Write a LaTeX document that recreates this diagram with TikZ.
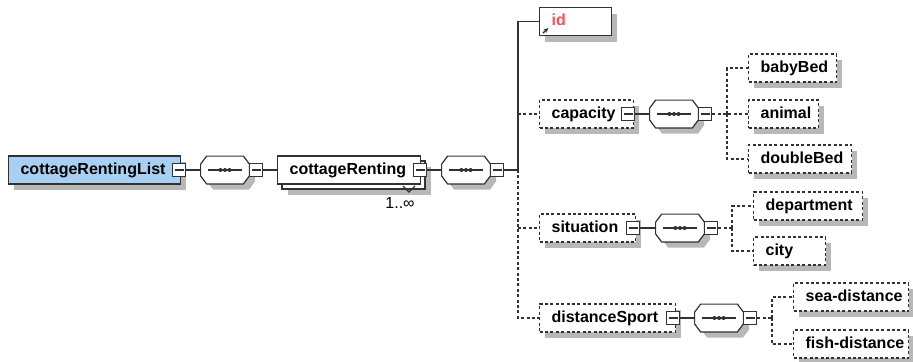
\documentclass[tikz,border=0pt]{standalone}
\usepackage{fontspec}
\setmainfont{Liberation Sans}
\usetikzlibrary{arrows.meta}
\definecolor{rootblue}{RGB}{168,208,242}
\definecolor{idred}{RGB}{236,86,86}
\definecolor{edge}{RGB}{50,50,50}
\hyphenpenalty=10000
\exhyphenpenalty=10000
\tikzset{
  elem/.style = {draw=edge, fill=white, line width=0.6pt, anchor=west,
                text width=#1, align=left, inner xsep=6pt, inner ysep=0pt,
                minimum height=14pt, text height=6pt, text depth=1.7pt,
                font=\fontsize{8}{9.6}\selectfont\bfseries},
  optelem/.style = {elem=#1, dash pattern=on 1.5pt off 1.2pt},
  toggle/.style = {draw=edge, fill=white, line width=0.6pt,
                minimum size=6.5pt, inner sep=0pt,
                path picture={\draw[edge, line width=0.6pt]
                  ([xshift=1pt]path picture bounding box.west) --
                  ([xshift=-1pt]path picture bounding box.east);}},
  seq/.style = {minimum width=24pt, minimum height=13.5pt, inner sep=0pt},
  link/.style = {draw=edge, line width=0.6pt},
  optlink/.style = {link, dash pattern=on 1.5pt off 1.2pt},
  shadowpen/.style = {fill=black!28, draw=black!28, line width=3pt, miter limit=10}
}
% shadow of a box: offset, left x, centre y, width
\newcommand{\boxshadow}[4][6]{%
  \filldraw[shadowpen] ({#2+#1+3},{#3-14+#1+3}) rectangle ({#2+#4+#1-3},{#3+14+#1-3});}
% shadow of a sequence octagon: centre x, centre y
\newcommand{\octshadow}[2]{%
  \filldraw[shadowpen, shift={({#1+6},{#2+6})}] (-16.5,-10.5) -- (16.5,-10.5) -- (21,-4.5) --
    (21,4.5) -- (16.5,10.5) -- (-16.5,10.5) -- (-21,4.5) -- (-21,-4.5) -- cycle;}
% octagon of a sequence node, drawn over its (empty) node
\newcommand{\seqbody}[1]{%
  \filldraw[fill=white, draw=edge, line width=0.6pt]
    ([xshift=3pt]#1.north west) -- ([xshift=-3pt]#1.north east) --
    ([yshift=-4pt]#1.north east) -- ([yshift=4pt]#1.south east) --
    ([xshift=-3pt]#1.south east) -- ([xshift=3pt]#1.south west) --
    ([yshift=4pt]#1.south west) -- ([yshift=-4pt]#1.north west) -- cycle;
  \draw[edge, line width=0.6pt] ([xshift=-8.5pt]#1.center) -- ([xshift=8.5pt]#1.center);
  \foreach \k in {-2.3,0,2.3}
    \fill[edge] ([xshift=\k pt]#1.center) circle (1pt);
}

\begin{document}
\begin{tikzpicture}[x=0.5pt, y=-0.5pt]
	\def\row{170}
	\def\kids{539}
	\useasboundingbox (0,0) rectangle (913,361);

	% Shadows
	\boxshadow{8}{\row}{172}
	\octshadow{225}{\row}
	\boxshadow[11]{277}{\row}{143}
	\filldraw[fill=white, draw=edge, line width=0.6pt] (282,{\row-9}) rectangle (425,{\row+19});
	\octshadow{466}{\row}
	\boxshadow{\kids}{21.5}{72}
	\boxshadow{\kids}{114}{94}
	\boxshadow{\kids}{228}{96}
	\boxshadow{\kids}{318}{136}
	\octshadow{674}{114}
	\octshadow{680}{228}
	\octshadow{719}{318}
	\boxshadow{748}{68}{88}
	\boxshadow{748}{114}{70}
	\boxshadow{748}{159}{103}
	\boxshadow{753}{206}{109}
	\boxshadow{753}{251}{72}
	\boxshadow{793}{297}{115}
	\boxshadow{793}{344}{115}

	% Root element
	\node[elem=74pt, fill=rootblue] (cottageRentingList) at (8,\row) {cottageRentingList};
	\node[toggle] (tRoot) at (179,\row) {};
	\node[seq] (seqRoot) at (225,\row) {}; \seqbody{seqRoot}
	\node[toggle] (tSeqRoot) at (256,\row) {};

	% Repeated element
	\node[elem=59.5pt] (cottageRenting) at (277,\row) {cottageRenting};
	\node[toggle] (tCottage) at (420,\row) {};
	\node[font=\fontsize{8}{9.6}\selectfont] (mult) at (400,203) {1..∞};
	\node[seq] (seqCottage) at (466,\row) {}; \seqbody{seqCottage}
	\node[toggle] (tSeqCottage) at (497,\row) {};
	\coordinate (trunk) at (518,\row);

	% Children of cottageRenting
	\node[elem=24pt, text=idred] (id) at (\kids,21.5) {id};
	\node[optelem=35pt] (capacity) at (\kids,114) {capacity};
	\node[toggle] (tCapacity) at (628,114) {};
	\node[optelem=36pt] (situation) at (\kids,228) {situation};
	\node[toggle] (tSituation) at (633,228) {};
	\node[optelem=56pt] (distanceSport) at (\kids,318) {distanceSport};
	\node[toggle] (tDistance) at (673,318) {};

	% capacity
	\node[seq] (seqCapacity) at (674,114) {}; \seqbody{seqCapacity}
	\node[toggle] (tSeqCapacity) at (705,114) {};
	\coordinate (brCapacity) at (727,114);
	\node[optelem=32pt] (babyBed) at (748,68) {babyBed};
	\node[optelem=23pt] (animal) at (748,114) {animal};
	\node[optelem=39.5pt] (doubleBed) at (748,159) {doubleBed};

	% situation
	\node[seq] (seqSituation) at (680,228) {}; \seqbody{seqSituation}
	\node[toggle] (tSeqSituation) at (711,228) {};
	\coordinate (brSituation) at (732,228);
	\node[optelem=42.5pt] (department) at (753,206) {department};
	\node[optelem=24pt] (city) at (753,251) {city};

	% distanceSport
	\node[seq] (seqDistance) at (719,318) {}; \seqbody{seqDistance}
	\node[toggle] (tSeqDistance) at (750,318) {};
	\coordinate (brDistance) at (772,318);
	\node[optelem=45.5pt] (seaDistance) at (793,297) {sea-distance};
	\node[optelem=45.5pt] (fishDistance) at (793,344) {fish-distance};

	% Links
	\draw[link] (tRoot) -- (seqRoot);
	\draw[link] (tSeqRoot) -- (cottageRenting);
	\draw[link] (tCottage) -- (seqCottage);
	\draw[link] (tSeqCottage) -- (trunk);
	\draw[optlink] (trunk) -- (trunk |- distanceSport.west) -- (distanceSport.west);
	\draw[optlink] (trunk |- capacity.west) -- (capacity.west);
	\draw[optlink] (trunk |- situation.west) -- (situation.west);
	\draw[link] (trunk) |- (id.west);
	\draw[edge, -{Stealth[length=2.2pt,width=2.2pt]}, line width=0.7pt]
		([shift={(2pt,1.5pt)}]id.south west) -- ([shift={(4.6pt,4pt)}]id.south west);
	\draw[edge, line width=0.6pt] (403,186) -- (409,192) -- (415,186);

	\draw[link] (tCapacity) -- (seqCapacity);
	\draw[optlink] (tSeqCapacity) -- (brCapacity) -- (animal.west);
	\draw[optlink] (brCapacity) |- (babyBed.west);
	\draw[optlink] (brCapacity) |- (doubleBed.west);

	\draw[link] (tSituation) -- (seqSituation);
	\draw[optlink] (tSeqSituation) -- (brSituation);
	\draw[optlink] (brSituation) |- (department.west);
	\draw[optlink] (brSituation) |- (city.west);

	\draw[link] (tDistance) -- (seqDistance);
	\draw[optlink] (tSeqDistance) -- (brDistance);
	\draw[optlink] (brDistance) |- (seaDistance.west);
	\draw[optlink] (brDistance) |- (fishDistance.west);

\end{tikzpicture}
\end{document}
